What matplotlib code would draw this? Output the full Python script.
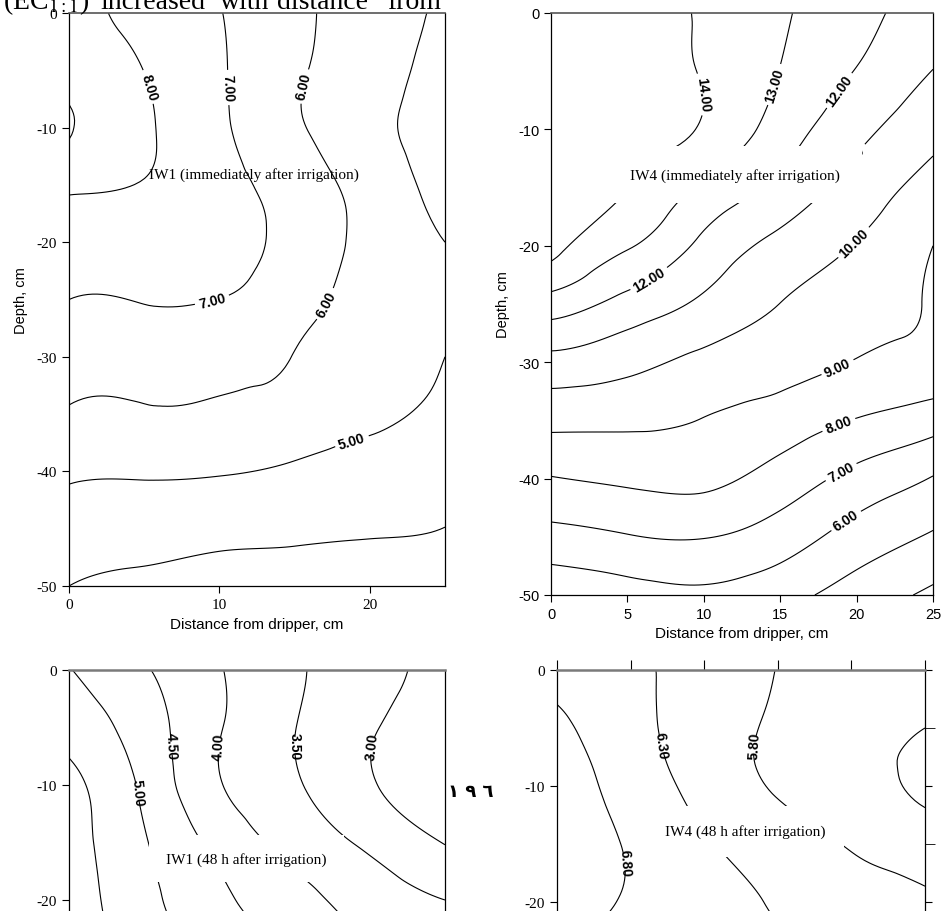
import numpy as np
import matplotlib
matplotlib.use("Agg")
from matplotlib import pyplot as plt
from matplotlib.ticker import MultipleLocator
import matplotlib.tri as mtri

W, H = 943, 912

# grid of the soil profile (cm)
DIST = [0, 5, 10, 15, 20, 25]
DEPTH = [0, -5, -10, -15, -20, -25, -30, -35, -40, -45, -50]
DEPTH_48H = [0, -5, -10, -15, -20, -25]

# EC values (rows = depth, cols = distance)
EC_IW1_0H = [[8.40, 7.71, 7.03, 6.24, 5.53, 4.85],
             [8.60, 7.99, 7.10, 6.15, 5.45, 4.60],
             [9.10, 8.15, 7.15, 6.15, 5.30, 4.55],
             [8.15, 7.95, 7.30, 6.55, 5.60, 4.70],
             [7.55, 7.45, 7.25, 6.70, 5.70, 5.00],
             [7.00, 7.05, 6.99, 6.40, 5.65, 5.30],
             [6.45, 6.40, 6.30, 5.97, 5.50, 5.00],
             [5.90, 5.90, 5.87, 5.60, 5.20, 4.80],
             [5.15, 5.12, 5.08, 4.85, 4.60, 4.33],
             [4.56, 4.43, 4.27, 4.18, 4.09, 3.99],
             [4.00, 3.75, 3.60, 3.55, 3.50, 3.45]]

EC_IW4_0H = [[14.90, 14.50, 13.90, 13.15, 12.30, 11.50],
             [14.80, 14.60, 13.93, 12.98, 11.96, 10.98],
             [14.60, 14.40, 13.90, 12.55, 11.30, 10.30],
             [14.40, 14.03, 12.85, 11.70, 10.60, 9.65],
             [14.35, 13.10, 11.75, 10.70, 9.95, 9.00],
             [12.55, 11.65, 10.80, 9.99, 9.50, 8.90],
             [10.67, 10.30, 9.75, 9.40, 8.95, 8.70],
             [9.28, 9.19, 8.97, 8.55, 7.95, 7.44],
             [7.95, 8.18, 8.24, 7.58, 6.68, 5.94],
             [6.66, 6.94, 7.04, 6.51, 5.59, 4.89],
             [5.25, 5.56, 5.80, 5.35, 4.55, 3.80]]

EC_IW1_48H = [[5.02, 4.55, 4.03, 3.56, 3.20, 2.80],
              [5.30, 4.75, 4.03, 3.51, 3.05, 2.75],
              [5.65, 4.90, 4.03, 3.55, 3.05, 2.70],
              [5.70, 5.04, 4.35, 3.82, 3.40, 2.98],
              [5.75, 5.15, 4.60, 4.17, 3.78, 3.50],
              [5.80, 5.30, 4.85, 4.45, 4.05, 3.80]]

EC_IW4_48H = [[6.62, 6.40, 6.09, 5.79, 5.55, 5.35],
              [6.90, 6.47, 6.04, 5.73, 5.50, 5.30],
              [7.05, 6.60, 6.13, 5.75, 5.50, 5.20],
              [7.05, 6.75, 6.35, 6.04, 5.76, 5.58],
              [7.00, 6.75, 6.50, 6.25, 6.00, 5.85],
              [6.70, 6.60, 6.50, 6.40, 6.20, 6.05]]

LEVELS_IW1_0H = [4, 5, 6, 7, 8, 9]
LEVELS_IW4_0H = [4, 5, 6, 7, 8, 9, 10, 11, 12, 13, 14]
LEVELS_IW1_48H = [3.0, 3.5, 4.0, 4.5, 5.0, 5.5]
LEVELS_IW4_48H = [5.3, 5.8, 6.3, 6.8]

SERIF = ['Liberation Serif', 'DejaVu Serif']
SANS = ['Liberation Sans', 'DejaVu Sans']
NARROW = ['Liberation Sans Narrow', 'Liberation Sans']

plt.rcParams['axes.unicode_minus'] = False
plt.rcParams['mathtext.fontset'] = 'stix'


def px_axes(fig, left, top, right, bottom):
    return fig.add_axes([left / W, 1 - bottom / H, (right - left) / W, (bottom - top) / H])


def contour_panel(ax, depth, values, levels, label_pos):
    xx, yy = np.meshgrid(DIST, depth)
    tri = mtri.Triangulation(xx.ravel(), yy.ravel())
    refiner = mtri.UniformTriRefiner(tri)
    tri_f, z_f = refiner.refine_field(np.array(values, dtype=float).ravel(), subdiv=4)
    cs = ax.tricontour(tri_f, z_f, levels=levels, colors='k', linewidths=0.8)
    with plt.rc_context({'font.family': SANS, 'font.weight': 'bold'}):
        labels = ax.clabel(cs, manual=label_pos, inline=True, fmt='%.2f',
                           fontsize=10, inline_spacing=4)
    for t in labels:
        t.set_fontweight('bold')
    return cs


def style_axes(ax, family, size, top_color='#666666', top_lw=1.4):
    ax.set_xlim(0, 25)
    ax.set_ylim(-50, 0)
    ax.yaxis.set_major_locator(MultipleLocator(10))
    ax.tick_params(direction='out', length=5, width=0.8, labelsize=size)
    for lab in ax.get_xticklabels() + ax.get_yticklabels():
        lab.set_fontfamily(family)
    for s in ['left', 'right', 'bottom']:
        ax.spines[s].set_linewidth(0.9)
    ax.spines['top'].set_color(top_color)
    ax.spines['top'].set_linewidth(top_lw)


fig = plt.figure(figsize=(W / 100, H / 100), dpi=100)

# ---- top left: IW1 immediately after irrigation
ax1 = px_axes(fig, 69, 14, 445, 587)
contour_panel(ax1, DEPTH, EC_IW1_0H, LEVELS_IW1_0H,
              [(5.4, -6.4), (10.6, -6.5), (15.9, -6.5), (9.5, -25.0),
               (17.7, -25.8), (18.8, -37.3)])
ax1.set_xticks([0, 10, 20])
style_axes(ax1, SERIF, 11, top_color='#555555', top_lw=1.2)
ax1.text(12.3, -14.05, "IW1 (immediately after irrigation)", ha='center', va='center',
         fontsize=11, family=SERIF, zorder=20)
ax1.set_xlabel("Distance from dripper, cm", fontsize=11, family=SANS)
ax1.xaxis.set_label_coords(0.5, -0.054)
ax1.set_ylabel("Depth, cm", fontsize=10.5, family=NARROW)
ax1.yaxis.set_label_coords(-0.109, 0.5)

# ---- top right: IW4 immediately after irrigation
ax2 = px_axes(fig, 551, 14, 933, 596)
contour_panel(ax2, DEPTH, EC_IW4_0H, LEVELS_IW4_0H,
              [(9.8, -7.0), (14.5, -6.1), (18.7, -6.5), (19.6, -12.6), (6.3, -22.6),
               (19.8, -19.7), (18.6, -30.0), (18.9, -35.6), (19.1, -39.7), (19.4, -43.8)])
ax2.set_xticks([0, 5, 10, 15, 20, 25])
style_axes(ax2, SANS, 10.5, top_color='#555555', top_lw=1.2)
ax2.text(12.07, -13.9, "IW4 (immediately after irrigation)", ha='center', va='center',
         fontsize=11, family=SERIF, zorder=20,
         bbox=dict(boxstyle='square,pad=1.4', fc='white', ec='none'))
ax2.set_xlabel("Distance from dripper, cm", fontsize=11, family=SANS)
ax2.xaxis.set_label_coords(0.5, -0.053)
ax2.set_ylabel("Depth, cm", fontsize=10.5, family=NARROW)
ax2.yaxis.set_label_coords(-0.107, 0.5)

# ---- bottom left: IW1 48 h after irrigation (page cut below -21 cm)
ax3 = px_axes(fig, 69, 671, 445, 1246)
contour_panel(ax3, DEPTH_48H, EC_IW1_48H, LEVELS_IW1_48H,
              [(6.7, -6.6), (10.15, -6.6), (15.0, -6.6), (20.2, -6.6), (4.5, -10.6)])
ax3.set_xticks([0, 10, 20])
style_axes(ax3, SERIF, 11, top_color='#7a7a7a', top_lw=1.8)
ax3.text(11.8, -16.4, "IW1 (48 h after irrigation)", ha='center', va='center',
         fontsize=11, family=SERIF, zorder=20,
         bbox=dict(boxstyle='square,pad=1.1', fc='white', ec='none'))

# ---- bottom right: IW4 48 h after irrigation
ax4 = px_axes(fig, 557, 671, 925, 1251)
contour_panel(ax4, DEPTH_48H, EC_IW4_48H, LEVELS_IW4_48H,
              [(6.9, -6.5), (13.4, -6.5), (4.4, -16.6)])
ax4.set_xticks([0, 5, 10, 15, 20, 25])
style_axes(ax4, SERIF, 11, top_color='#7a7a7a', top_lw=1.8)
ax4.yaxis.set_minor_locator(MultipleLocator(5))
ax4.tick_params(axis='x', which='major', top=True, length=7)
ax4.tick_params(axis='y', which='major', right=True, labelright=False)
ax4.tick_params(axis='y', which='minor', left=False, right=True, direction='out', length=7)
ax4.text(12.8, -13.9, "IW4 (48 h after irrigation)", ha='center', va='center',
         fontsize=11, family=SERIF, zorder=20,
         bbox=dict(boxstyle='square,pad=1.2', fc='white', ec='none'))

# running text of the scanned page
for word, xpx in [(r"(EC$_{1:1}$)", 3), ("increased", 100), ("with", 220),
                  ("distance", 277), ("from", 387)]:
    fig.text(xpx / W, 1 - 9 / H, word, fontsize=20, family=SERIF, va='baseline')
fig.text(448 / W, 1 - 792 / H, "١ ٩ ٦", fontsize=13, fontweight='bold',
         family=['DejaVu Sans'], va='center')

fig.savefig("out.png", dpi=100)
